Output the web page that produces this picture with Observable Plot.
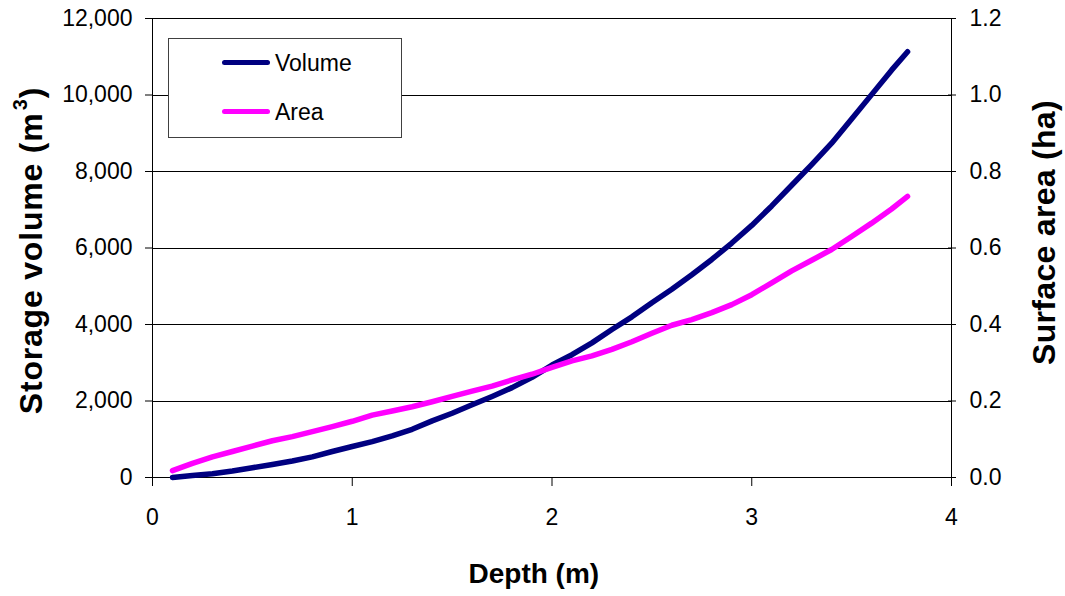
<!DOCTYPE html>
<html>
<head>
<meta charset="utf-8">
<script src="https://cdn.jsdelivr.net/npm/d3@7"></script>
<script src="https://cdn.jsdelivr.net/npm/@observablehq/plot@0.6"></script>
<style>
  html, body { margin: 0; padding: 0; background: #fff; }
  #wrap { position: relative; width: 1065px; height: 596px; font-family: "Liberation Sans", Arial, sans-serif; color: #000; }
  #wrap svg { position: absolute; left: 0; top: 0; }
  .title { position: absolute; font-weight: bold; white-space: nowrap; transform-origin: center center; }
  .title sup { font-size: 0.62em; vertical-align: 0; position: relative; top: -0.75em; margin-left: 0.12em; }
  #legend { position: absolute; left: 168px; top: 38px; width: 234px; height: 100px; box-sizing: border-box; border: 1px solid #404040; background: #fff; }
  .lg-line { position: absolute; left: 53px; width: 48px; height: 5px; border-radius: 3px; }
  .lg-text { position: absolute; left: 106px; font-size: 23px; line-height: 1; }
</style>
</head>
<body>
<div id="wrap"></div>
<script>
// ---- data ----
const depth  = [0.1,0.2,0.3,0.4,0.5,0.6,0.7,0.8,0.9,1.0,1.1,1.2,1.3,1.4,1.5,1.6,1.7,1.8,1.9,2.0,2.1,2.2,2.3,2.4,2.5,2.6,2.7,2.8,2.9,3.0,3.1,3.2,3.3,3.4,3.5,3.6,3.7,3.78];
const volume = [0,50,100,170,255,340,430,540,680,810,940,1090,1260,1480,1680,1900,2120,2350,2620,2940,3210,3520,3870,4200,4570,4920,5300,5700,6130,6590,7100,7640,8180,8740,9370,10010,10650,11130];
const area   = [0.018,0.037,0.054,0.068,0.082,0.096,0.107,0.120,0.133,0.147,0.163,0.174,0.185,0.198,0.212,0.226,0.239,0.255,0.270,0.288,0.305,0.318,0.335,0.355,0.377,0.398,0.413,0.431,0.452,0.478,0.509,0.540,0.568,0.596,0.630,0.665,0.702,0.735];
const xTicks = [0,1,2,3,4];
const yTicks = [0,2000,4000,6000,8000,10000,12000];
const y2Ticks = [0,0.2,0.4,0.6,0.8,1.0,1.2];
const seriesNames = ["Volume","Area"];
const seriesColors = ["#000080","#ff00ff"];
const xTitle = "Depth (m)";
const yTitle = "Storage volume (m";
const y2Title = "Surface area (ha)";

const ratio = yTicks[yTicks.length-1] / y2Ticks[y2Ticks.length-1];
const rows = depth.map((d,i) => ({depth: d, volume: volume[i], area: area[i]}));

const chart = Plot.plot({
  width: 1065, height: 596,
  marginLeft: 152, marginRight: 114, marginTop: 18, marginBottom: 119,
  style: {fontFamily: '"Liberation Sans", Arial, sans-serif', fontSize: "23px", color: "#000", background: "transparent"},
  x: {domain: [0,4]},
  y: {domain: [0,12000]},
  marks: [
    Plot.ruleY(yTicks.slice(1), {stroke: "#000", strokeWidth: 1, shapeRendering: "crispEdges"}),
    Plot.ruleX([xTicks[0]], {stroke: "#000", shapeRendering: "crispEdges"}),
    Plot.ruleX([xTicks[xTicks.length-1]], {stroke: "#000", shapeRendering: "crispEdges"}),
    Plot.ruleY([0], {stroke: "#000", shapeRendering: "crispEdges"}),
    Plot.axisX({ticks: xTicks, tickSize: 9, tickPadding: 22, tickFormat: d3.format("d"), label: null, fontSize: 23}),
    Plot.axisY({anchor: "left", ticks: yTicks, tickSize: 7, tickPadding: 13, tickFormat: d3.format(","), label: null, fontSize: 23}),
    Plot.axisY({anchor: "right", ticks: y2Ticks.map(v => v*ratio), tickSize: 8, dx: -4, tickPadding: 14,
                tickFormat: v => (v/ratio).toFixed(1), label: null, fontSize: 23}),
    Plot.line(rows, {x: "depth", y: "volume", stroke: seriesColors[0], strokeWidth: 5.5, strokeLinecap: "round", strokeLinejoin: "round"}),
    Plot.line(rows, {x: "depth", y: d => d.area*ratio, stroke: seriesColors[1], strokeWidth: 5.5, strokeLinecap: "round", strokeLinejoin: "round"})
  ]
});

const wrap = document.getElementById("wrap");
wrap.appendChild(chart);

function addTitle(html, cx, cy, size, rot, ls) {
  const el = document.createElement("div");
  el.className = "title";
  el.innerHTML = html;
  el.style.fontSize = size + "px";
  el.style.letterSpacing = ls + "px";
  wrap.appendChild(el);
  const w = el.offsetWidth, h = el.offsetHeight;
  el.style.left = (cx - w/2) + "px";
  el.style.top = (cy - h/2) + "px";
  if (rot) el.style.transform = `rotate(${rot}deg)`;
}
addTitle(xTitle, 534, 574, 28, 0, 0);
addTitle(yTitle + "<sup>3</sup>)", 31, 250, 32, -90, 0.8);
addTitle(y2Title, 1044, 232, 32, -90, 0.3);

const lg = document.createElement("div");
lg.id = "legend";
seriesNames.forEach((name, i) => {
  const ln = document.createElement("div");
  ln.className = "lg-line";
  ln.style.background = seriesColors[i];
  ln.style.top = (21 + i*48.5) + "px";
  lg.appendChild(ln);
  const tx = document.createElement("div");
  tx.className = "lg-text";
  tx.textContent = name;
  tx.style.top = (13 + i*48.5) + "px";
  lg.appendChild(tx);
});
wrap.appendChild(lg);
</script>
</body>
</html>
